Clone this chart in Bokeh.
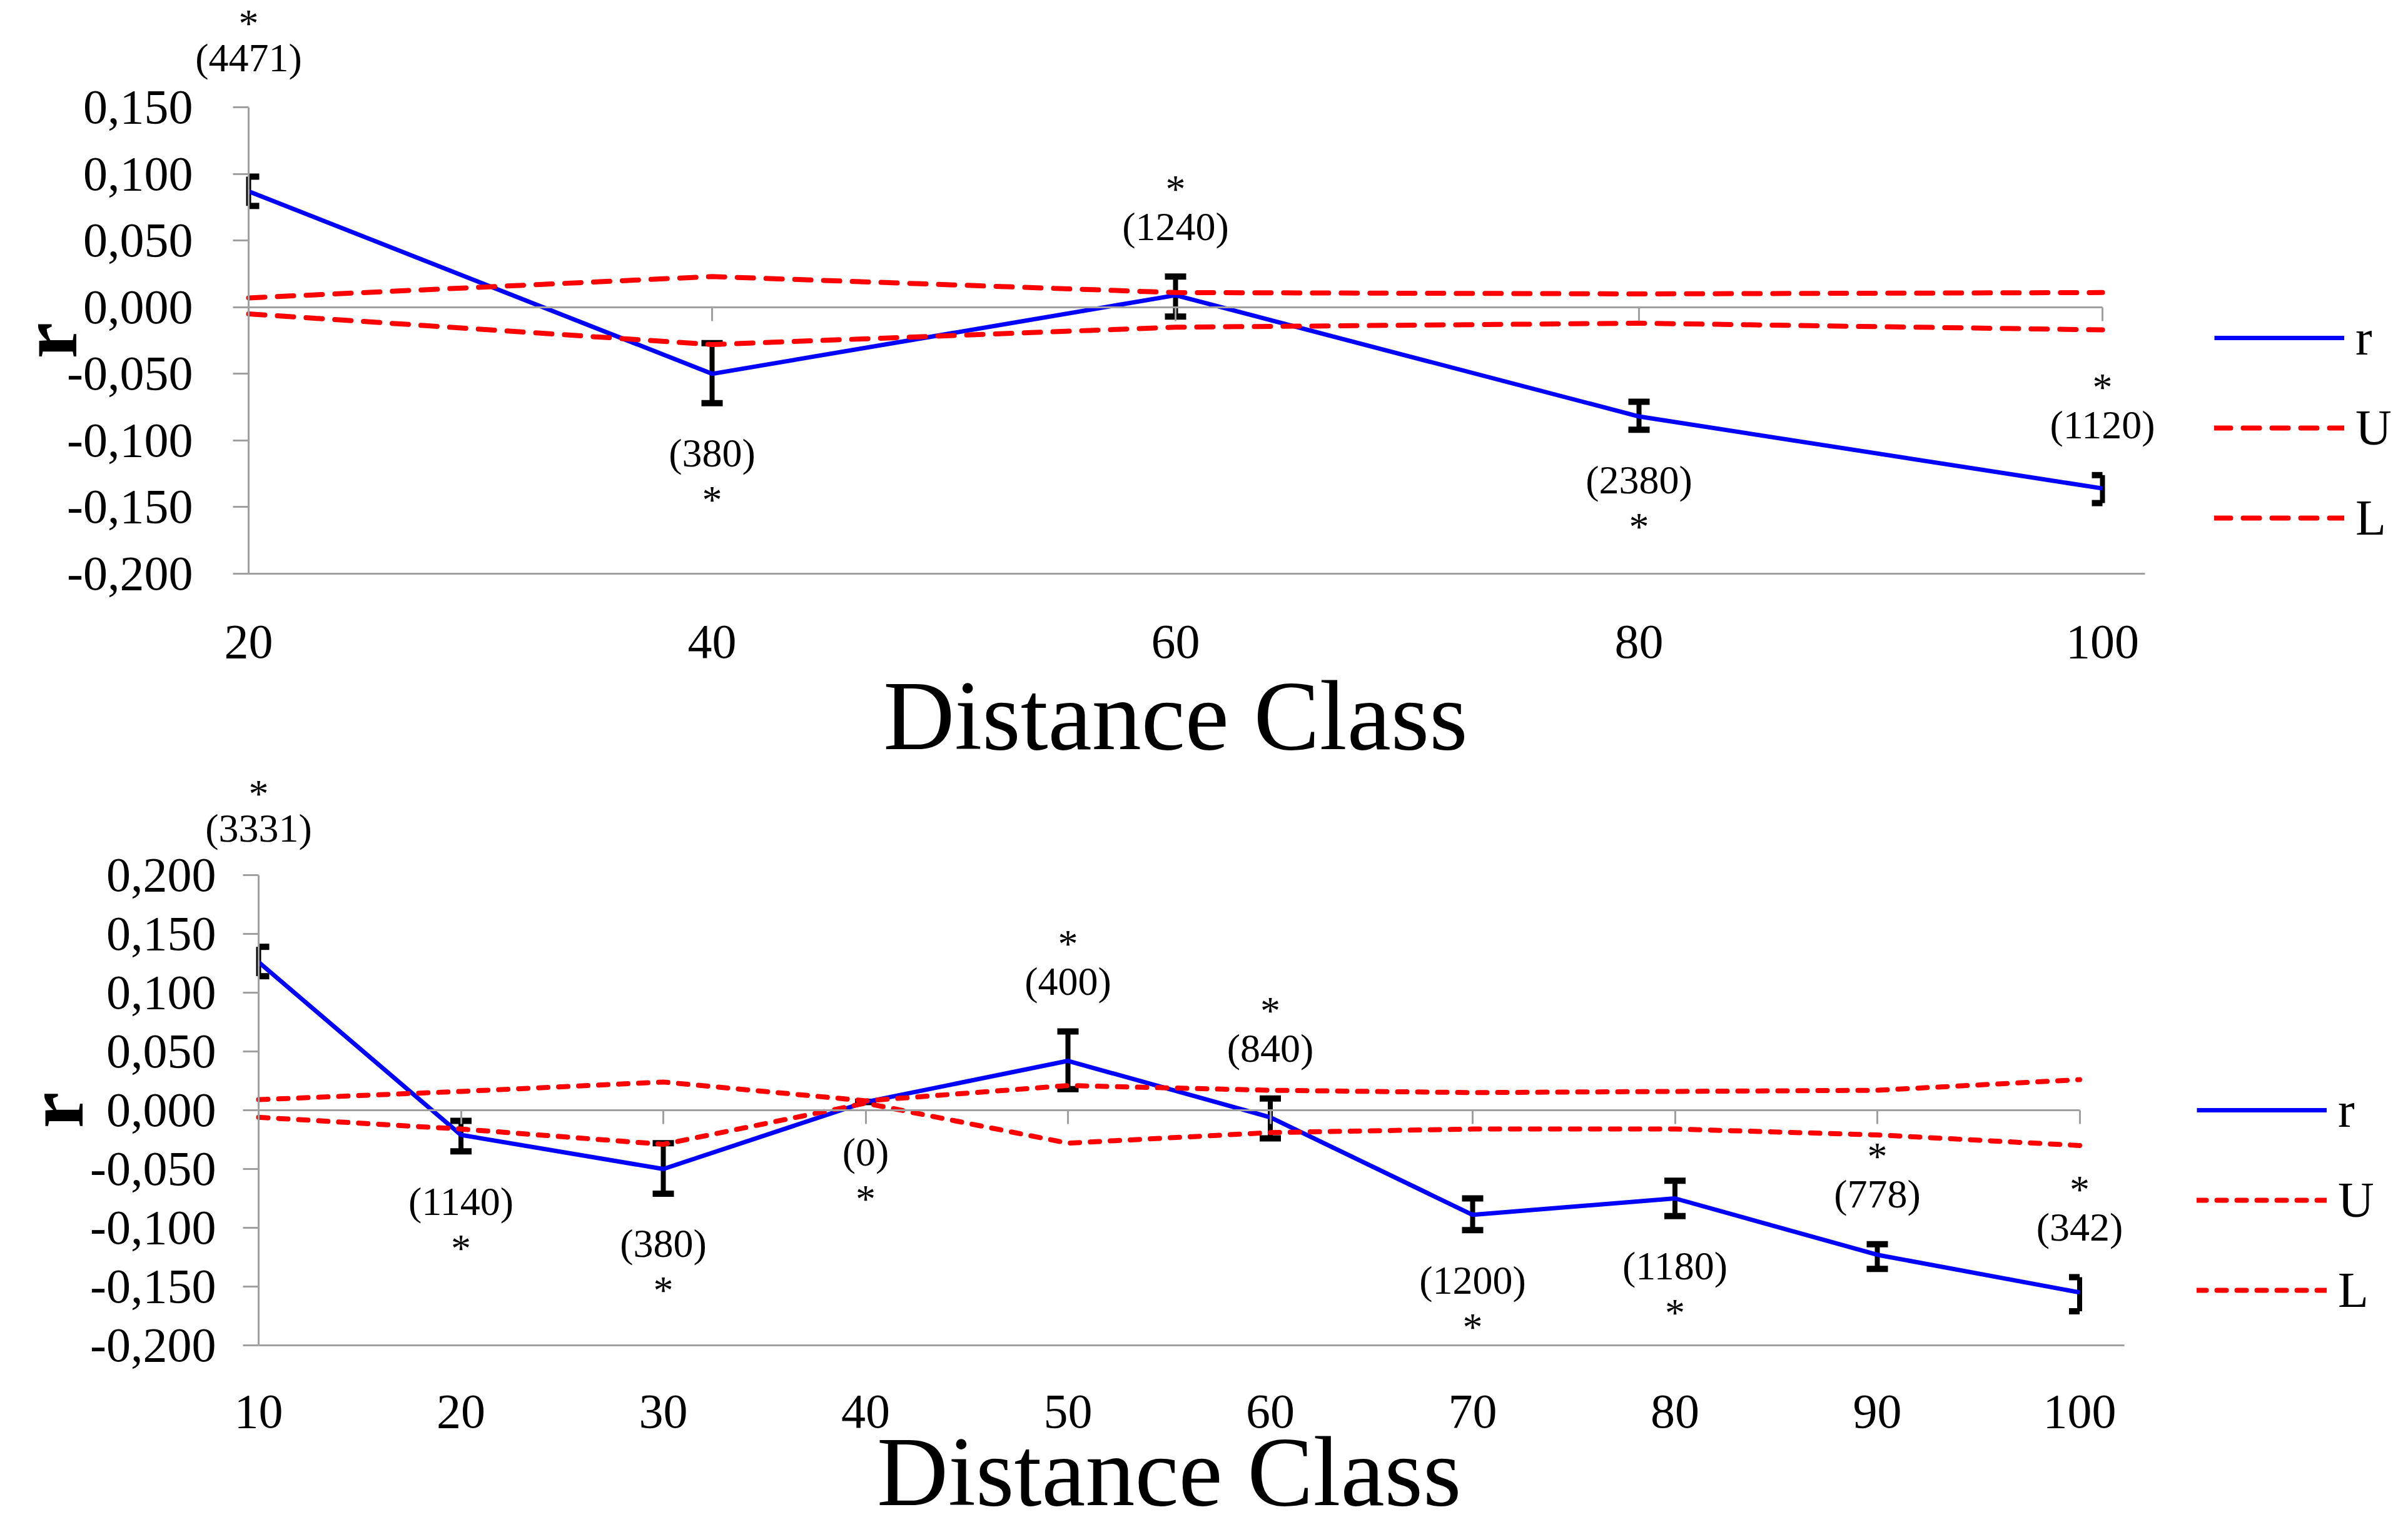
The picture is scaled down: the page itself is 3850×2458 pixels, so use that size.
import numpy as np
from bokeh.plotting import figure
from bokeh.models import (Range1d, FixedTicker, LinearAxis, Legend, LegendItem,
                          ColumnDataSource)
from bokeh.layouts import column
from bokeh.core.properties import value
from bokeh.embed import file_html
from bokeh.resources import INLINE

FONT = "Liberation Serif"
GRAY = "#a0a0a0"
BLUE = "#0000ff"
RED = "#ff0000"

# ---------------- data: upper panel ----------------
dist_a = [20, 40, 60, 80, 100]
r_a = [0.087, -0.050, 0.009, -0.082, -0.136]
r_a_hi = [0.098, -0.027, 0.023, -0.071, -0.126]
r_a_lo = [0.076, -0.072, -0.007, -0.092, -0.147]
U_a = [0.007, 0.023, 0.011, 0.010, 0.011]
L_a = [-0.005, -0.028, -0.015, -0.012, -0.017]
n_a = ["(4471)", "(380)", "(1240)", "(2380)", "(1120)"]
side_a = ["above", "below", "above", "below", "above"]
yticks_a = [-0.2, -0.15, -0.1, -0.05, 0.0, 0.05, 0.1, 0.15]
ylabels_a = ["-0,200", "-0,150", "-0,100", "-0,050", "0,000", "0,050", "0,100", "0,150"]

# ---------------- data: lower panel ----------------
dist_b = [10, 20, 30, 40, 50, 60, 70, 80, 90, 100]
r_b = [0.126, -0.021, -0.050, 0.007, 0.042, -0.006, -0.089, -0.075, -0.123, -0.155]
r_b_hi = [0.139, -0.009, -0.028, 0.007, 0.067, 0.010, -0.075, -0.060, -0.114, -0.142]
r_b_lo = [0.114, -0.035, -0.071, 0.007, 0.018, -0.024, -0.102, -0.090, -0.135, -0.171]
U_b = [0.009, 0.016, 0.024, 0.008, 0.021, 0.017, 0.015, 0.016, 0.017, 0.026]
L_b = [-0.006, -0.016, -0.029, 0.006, -0.028, -0.019, -0.016, -0.016, -0.021, -0.030]
n_b = ["(3331)", "(1140)", "(380)", "(0)", "(400)", "(840)", "(1200)", "(1180)", "(778)", "(342)"]
side_b = ["above", "below", "below", "below", "above", "above", "below", "below", "above", "above"]
yticks_b = [-0.2, -0.15, -0.1, -0.05, 0.0, 0.05, 0.1, 0.15, 0.2]
ylabels_b = ["-0,200", "-0,150", "-0,100", "-0,050", "0,000", "0,050", "0,100", "0,150", "0,200"]

X_TITLE = "Distance Class"
Y_TITLE = "r"


def style_axis(ax, tick_out, standoff, show_labels=True):
    ax.minor_tick_line_color = None
    ax.major_tick_out = tick_out
    ax.major_tick_in = 0
    ax.axis_line_color = GRAY
    ax.axis_line_width = 3
    ax.major_tick_line_color = GRAY if tick_out > 0 else None
    ax.major_tick_line_width = 3
    ax.major_label_text_font = FONT
    ax.major_label_text_font_size = "78px" if show_labels else "0px"
    ax.major_label_text_color = "black"
    ax.major_label_standoff = standoff


def make_panel(dist, r, hi, lo, U, L, counts, sides, yticks, ylabels, *,
               width, height, ox, oy, x_ppu, y_ppu, line_px, dash,
               ylab_standoff, xlab_standoff, r_dx, title_dy, legend_loc):
    # ox, oy: pixel position (from the figure's top-left) of the point
    # (first distance class, lowest y tick); the frame fills the figure.
    x_start = dist[0] - ox / x_ppu
    x_end = dist[0] + (width - ox) / x_ppu
    y_start = yticks[0] - (height - oy) / y_ppu
    y_end = yticks[0] + oy / y_ppu

    p = figure(width=width, height=height,
               x_range=Range1d(x_start, x_end), y_range=Range1d(y_start, y_end),
               x_axis_location=None, y_axis_location=None,
               output_backend="svg", toolbar_location=None,
               min_border=0)
    p.outline_line_color = None
    p.xgrid.visible = False
    p.ygrid.visible = False
    p.background_fill_color = "white"
    p.border_fill_color = "white"

    # vertical axis at the first class
    ya = LinearAxis(fixed_location=dist[0], ticker=FixedTicker(ticks=yticks),
                    bounds=(yticks[0], yticks[-1]))
    ya.major_label_overrides = {t: s for t, s in zip(yticks, ylabels)}
    style_axis(ya, 25, ylab_standoff)
    p.add_layout(ya, "left")

    # bottom line with the class labels
    xa = LinearAxis(fixed_location=yticks[0], ticker=FixedTicker(ticks=dist),
                    bounds=(dist[0], dist[0] + line_px / x_ppu))
    style_axis(xa, 0, xlab_standoff)
    p.add_layout(xa, "below")

    # horizontal axis crossing at zero, with category tick marks
    za = LinearAxis(fixed_location=0, ticker=FixedTicker(ticks=dist),
                    bounds=(dist[0], dist[-1]))
    za.major_label_overrides = {d: "" for d in dist}
    style_axis(za, 22, 0, show_labels=False)
    p.add_layout(za, "below")

    # error bars (caps clipped to the class span, as in the original)
    x = np.array(dist, dtype=float)
    cap_half = 17.0 / x_ppu
    cl = np.clip(x - cap_half, x[0], x[-1])
    cr = np.clip(x + cap_half, x[0], x[-1])
    p.segment(x0=x, y0=lo, x1=x, y1=hi, line_color="black", line_width=8)
    p.segment(x0=cl, y0=hi, x1=cr, y1=hi, line_color="black", line_width=10)
    p.segment(x0=cl, y0=lo, x1=cr, y1=lo, line_color="black", line_width=10)

    lr = p.line(dist, r, line_color=BLUE, line_width=7)
    lu = p.line(dist, U, line_color=RED, line_width=8, line_dash=dash,
                line_cap="round")
    ll = p.line(dist, L, line_color=RED, line_width=8, line_dash=dash,
                line_cap="round")

    # data labels: count and significance asterisk
    up = np.array([s == "above" for s in sides])
    anchor = np.where(up, hi, lo)
    sign = np.where(up, -1.0, 1.0)
    extra = np.zeros(len(dist))
    extra[0] = 110.0
    n_gap = sign * (80.0 + extra)
    s_gap = np.where(up, -(140.0 + extra * 0.95), 155.0 + extra)
    src = ColumnDataSource(dict(x=dist, y=anchor, n=counts,
                                star=["*"] * len(dist), dn=n_gap, ds=s_gap))
    p.text(x="x", y="y", text="n", y_offset="dn", source=src,
           text_font=value(FONT), text_font_size="64px", text_color="black",
           text_align="center", text_baseline="middle")
    p.text(x="x", y="y", text="star", y_offset="ds", source=src,
           text_font=value(FONT), text_font_size="64px", text_color="black",
           text_align="center", text_baseline="middle")

    # axis titles
    p.text(x=[dist[0]], y=[(yticks[0] + yticks[-1]) / 2], text=[Y_TITLE],
           x_offset=r_dx, angle=np.pi / 2, text_font=value(FONT),
           text_font_style="bold", text_font_size="130px", text_color="black",
           text_align="center", text_baseline="middle")
    p.text(x=[(dist[0] + dist[-1]) / 2], y=[yticks[0]], text=[X_TITLE],
           y_offset=title_dy, text_font=value(FONT), text_font_size="158px",
           text_color="black", text_align="center", text_baseline="bottom")

    leg = Legend(items=[LegendItem(label="r", renderers=[lr]),
                        LegendItem(label="U", renderers=[lu]),
                        LegendItem(label="L", renderers=[ll])],
                 location=legend_loc, orientation="vertical")
    leg.glyph_width = 208
    leg.glyph_height = 100
    leg.label_height = 100
    leg.spacing = 44
    leg.padding = 0
    leg.margin = 0
    leg.label_standoff = 18
    leg.label_text_font = FONT
    leg.label_text_font_size = "80px"
    leg.label_text_color = "black"
    leg.border_line_color = None
    leg.background_fill_alpha = 0
    p.add_layout(leg, "center")
    return p


p1 = make_panel(dist_a, r_a, r_a_hi, r_a_lo, U_a, L_a, n_a, side_a,
                yticks_a, ylabels_a, width=3834, height=1232,
                ox=397, oy=917, x_ppu=37.05, y_ppu=2131.0, line_px=3032,
                dash="26 20", ylab_standoff=64, xlab_standoff=83,
                r_dx=-320, title_dy=314, legend_loc=(3540, 354))
p2 = make_panel(dist_b, r_b, r_b_hi, r_b_lo, U_b, L_b, n_b, side_b,
                yticks_b, ylabels_b, width=3834, height=1210,
                ox=413, oy=919, x_ppu=32.35, y_ppu=1880.0, line_px=2983,
                dash="15 17", ylab_standoff=43, xlab_standoff=80,
                r_dx=-326, title_dy=289, legend_loc=(3512, 329))

layout = column(p1, p2, spacing=0)
open("out.html", "w").write(file_html(layout, INLINE))
